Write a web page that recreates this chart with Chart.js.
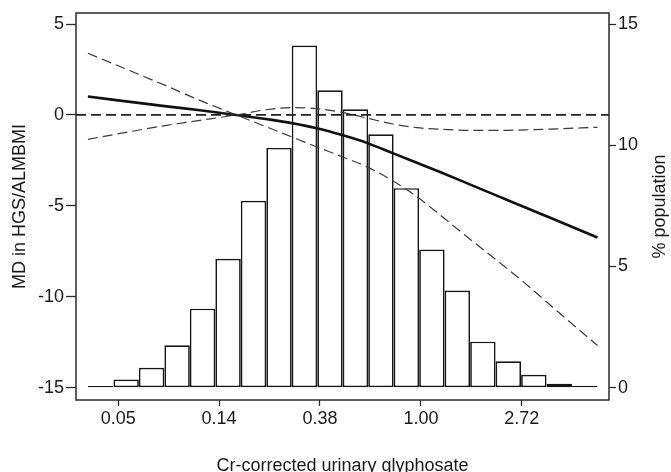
<!DOCTYPE html>
<html>
<head>
<meta charset="utf-8">
<script src="https://cdn.jsdelivr.net/npm/chart.js@4.4.1/dist/chart.umd.min.js"></script>
<style>
  html, body { margin: 0; padding: 0; background: #fff; overflow: hidden; }
  #chart { display: block; }
</style>
</head>
<body>
<canvas id="chart" width="671" height="472"></canvas>
<script>
// x axis is ln(glyphosate); ticks are labelled with exp(value)
const xTickValues = [-3, -2, -1, 0, 1];
const xTickLabels = ["0.05", "0.14", "0.38", "1.00", "2.72"];
const mdTicks = [-15, -10, -5, 0, 5];
const popTicks = [0, 5, 10, 15];

// histogram: bin midpoints (ln scale) and % population
const binMidLn = [-3.174, -2.921, -2.669, -2.416, -2.164, -1.911, -1.659, -1.406, -1.154, -0.901,
                  -0.649, -0.396, -0.144, 0.109, 0.361, 0.614, 0.866, 1.119, 1.371, 1.624];
const popPct = [0.07, 0.34, 0.82, 1.75, 3.26, 5.32, 7.71, 9.89, 14.11, 12.27,
                11.48, 10.45, 8.23, 5.70, 4.01, 1.90, 1.09, 0.53, 0.16, 0.08];

// spline: fitted mean difference and 95% CI
const curveLn = [-3.30, -2.52, -2.19, -1.83, -1.52, -1.28, -1.03, -0.78, -0.53, -0.28, -0.04, 0.19, 0.49, 0.81, 1.03, 1.27, 1.75];
const mdFit   = [1.01, 0.47, 0.26, 0.00, -0.24, -0.45, -0.73, -1.11, -1.55, -2.10, -2.63, -3.14, -3.83, -4.57, -5.08, -5.63, -6.74];
const ciA     = [3.39, 1.59, 0.80, 0.00, -0.68, -1.21, -1.76, -2.30, -2.87, -3.62, -4.49, -5.50, -6.85, -8.25, -9.25, -10.40, -12.68];
const ciB     = [-1.34, -0.57, -0.30, 0.00, 0.30, 0.40, 0.34, 0.14, -0.18, -0.50, -0.70, -0.79, -0.85, -0.85, -0.82, -0.78, -0.68];
const refLineY = 0;

const X_MIN = -3.418, X_MAX = 1.864;
const FONT = '"Liberation Sans", Arial, Helvetica, sans-serif';
const INK = "#1a1a1a";

const pts = (xs, ys) => xs.map((x, i) => ({ x: x, y: ys[i] }));

const frameAndTitles = {
  id: "frameAndTitles",
  afterDatasetsDraw(chart) {
    const { ctx, chartArea: a } = chart;
    ctx.save();
    ctx.strokeStyle = "#2a2a2a";
    ctx.lineWidth = 1.5;
    ctx.strokeRect(a.left, a.top, a.right - a.left, a.bottom - a.top);
    ctx.fillStyle = INK;
    ctx.font = "18px " + FONT;
    ctx.textAlign = "center";
    ctx.textBaseline = "alphabetic";
    const midY = (a.top + a.bottom) / 2;
    ctx.save(); ctx.translate(25, midY); ctx.rotate(-Math.PI / 2);
    ctx.fillText("MD in HGS/ALMBMI", 0, 0); ctx.restore();
    ctx.save(); ctx.translate(665, midY); ctx.rotate(-Math.PI / 2);
    ctx.fillText("% population", 0, 0); ctx.restore();
    ctx.fillText("Cr-corrected urinary glyphosate", (a.left + a.right) / 2, 471);
    ctx.restore();
  }
};

const lineBase = { type: "line", yAxisID: "y", xAxisID: "x", pointRadius: 0, fill: false,
                   cubicInterpolationMode: "monotone", order: 0 };

new Chart(document.getElementById("chart"), {
  type: "bar",
  data: {
    datasets: [
      { ...lineBase, data: pts([X_MIN, X_MAX], [refLineY, refLineY]), borderColor: "#222",
        borderWidth: 1.8, borderDash: [10, 5], cubicInterpolationMode: "default", tension: 0 },
      { ...lineBase, data: pts(curveLn, ciA), borderColor: "#3a3a3a", borderWidth: 1.2, borderDash: [10, 5] },
      { ...lineBase, data: pts(curveLn, ciB), borderColor: "#3a3a3a", borderWidth: 1.2, borderDash: [10, 5] },
      { ...lineBase, data: pts(curveLn, mdFit), borderColor: "#111", borderWidth: 2.6 },
      { type: "bar", xAxisID: "x", yAxisID: "y2", order: 1,
        data: pts(binMidLn, popPct), backgroundColor: "#fff", borderColor: "#151515",
        borderWidth: 1.7, borderSkipped: false, inflateAmount: 0,
        barPercentage: 1, categoryPercentage: 1, grouped: false }
    ]
  },
  options: {
    responsive: false,
    animation: false,
    devicePixelRatio: 1,
    layout: { padding: { top: 13, left: 0, right: 0, bottom: 0 } },
    plugins: { legend: { display: false }, tooltip: { enabled: false } },
    scales: {
      x: {
        type: "linear", position: "bottom", min: X_MIN, max: X_MAX, offset: false,
        afterFit: s => { s.height = 72; },
        afterBuildTicks: s => { s.ticks = xTickValues.map(v => ({ value: v })); },
        ticks: { color: INK, font: { family: FONT, size: 18 }, padding: 2, maxRotation: 0,
                 callback: v => xTickLabels[xTickValues.indexOf(v)] },
        grid: { drawOnChartArea: false, drawTicks: true, tickLength: 6, tickColor: "#2a2a2a", tickWidth: 1.3, offset: false },
        border: { display: false }
      },
      y: {
        type: "linear", position: "left", min: -15.676, max: 5.605,
        afterFit: s => { s.width = 76; },
        afterBuildTicks: s => { s.ticks = mdTicks.map(v => ({ value: v })); },
        ticks: { color: INK, font: { family: FONT, size: 18 }, padding: 2 },
        grid: { drawOnChartArea: false, drawTicks: true, tickLength: 10, tickColor: "#2a2a2a", tickWidth: 1.3 },
        border: { display: false }
      },
      y2: {
        type: "linear", position: "right", min: -0.507, max: 15.454,
        afterFit: s => { s.width = 62; },
        afterBuildTicks: s => { s.ticks = popTicks.map(v => ({ value: v })); },
        ticks: { color: INK, font: { family: FONT, size: 18 }, padding: 2 },
        grid: { drawOnChartArea: false, drawTicks: true, tickLength: 7, tickColor: "#2a2a2a", tickWidth: 1.3 },
        border: { display: false }
      }
    }
  },
  plugins: [frameAndTitles]
});
</script>
</body>
</html>
